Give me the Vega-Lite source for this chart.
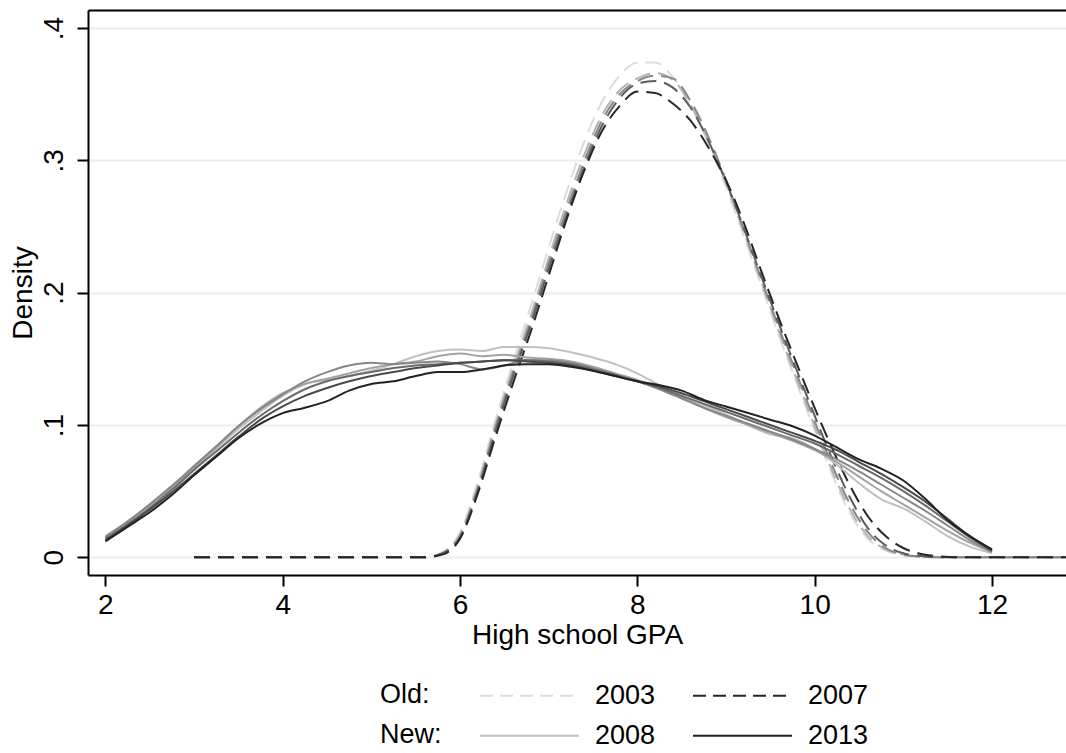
{
  "$schema": "https://vega.github.io/schema/vega-lite/v6.json",
  "width": 978,
  "height": 565,
  "autosize": "none",
  "padding": {"left": 88, "top": 10, "right": 0, "bottom": 178},
  "background": "white",
  "config": {
    "font": "Liberation Sans",
    "view": {"stroke": null},
    "axis": {"labelColor": "black", "titleColor": "black", "titleFontWeight": "normal", "domainColor": "black", "tickColor": "black", "domainWidth": 2, "tickWidth": 2}
  },
  "datasets": {
    "old": [
      {"year":"2003","x":3.0,"y":0},{"year":"2003","x":5.6,"y":0},{"year":"2003","x":5.8,"y":0.004},{"year":"2003","x":6.0,"y":0.019},{"year":"2003","x":6.2,"y":0.057},{"year":"2003","x":6.4,"y":0.104},{"year":"2003","x":6.6,"y":0.148},{"year":"2003","x":6.8,"y":0.19},{"year":"2003","x":7.0,"y":0.234},{"year":"2003","x":7.2,"y":0.276},{"year":"2003","x":7.4,"y":0.314},{"year":"2003","x":7.6,"y":0.344},{"year":"2003","x":7.8,"y":0.364},{"year":"2003","x":8.0,"y":0.374},{"year":"2003","x":8.2,"y":0.374},{"year":"2003","x":8.4,"y":0.363},{"year":"2003","x":8.6,"y":0.342},{"year":"2003","x":8.8,"y":0.313},{"year":"2003","x":9.0,"y":0.28},{"year":"2003","x":9.2,"y":0.243},{"year":"2003","x":9.4,"y":0.205},{"year":"2003","x":9.6,"y":0.167},{"year":"2003","x":9.8,"y":0.131},{"year":"2003","x":10.0,"y":0.096},{"year":"2003","x":10.2,"y":0.062},{"year":"2003","x":10.4,"y":0.033},{"year":"2003","x":10.6,"y":0.014},{"year":"2003","x":10.8,"y":0.005},{"year":"2003","x":11.0,"y":0.0015},{"year":"2003","x":11.2,"y":0.0003},{"year":"2003","x":11.4,"y":0},{"year":"2003","x":11.6,"y":0},{"year":"2003","x":12.84,"y":0},
      {"year":"2004","x":3.0,"y":0},{"year":"2004","x":5.6,"y":0},{"year":"2004","x":5.8,"y":0.003},{"year":"2004","x":6.0,"y":0.017},{"year":"2004","x":6.2,"y":0.054},{"year":"2004","x":6.4,"y":0.1},{"year":"2004","x":6.6,"y":0.143},{"year":"2004","x":6.8,"y":0.183},{"year":"2004","x":7.0,"y":0.226},{"year":"2004","x":7.2,"y":0.267},{"year":"2004","x":7.4,"y":0.304},{"year":"2004","x":7.6,"y":0.334},{"year":"2004","x":7.8,"y":0.353},{"year":"2004","x":8.0,"y":0.362},{"year":"2004","x":8.2,"y":0.366},{"year":"2004","x":8.4,"y":0.361},{"year":"2004","x":8.6,"y":0.342},{"year":"2004","x":8.8,"y":0.315},{"year":"2004","x":9.0,"y":0.283},{"year":"2004","x":9.2,"y":0.246},{"year":"2004","x":9.4,"y":0.208},{"year":"2004","x":9.6,"y":0.17},{"year":"2004","x":9.8,"y":0.134},{"year":"2004","x":10.0,"y":0.099},{"year":"2004","x":10.2,"y":0.065},{"year":"2004","x":10.4,"y":0.036},{"year":"2004","x":10.6,"y":0.016},{"year":"2004","x":10.8,"y":0.006},{"year":"2004","x":11.0,"y":0.002},{"year":"2004","x":11.2,"y":0.0005},{"year":"2004","x":11.4,"y":0},{"year":"2004","x":11.6,"y":0},{"year":"2004","x":12.84,"y":0},
      {"year":"2005","x":3.0,"y":0},{"year":"2005","x":5.6,"y":0},{"year":"2005","x":5.8,"y":0.003},{"year":"2005","x":6.0,"y":0.016},{"year":"2005","x":6.2,"y":0.052},{"year":"2005","x":6.4,"y":0.098},{"year":"2005","x":6.6,"y":0.14},{"year":"2005","x":6.8,"y":0.179},{"year":"2005","x":7.0,"y":0.222},{"year":"2005","x":7.2,"y":0.262},{"year":"2005","x":7.4,"y":0.299},{"year":"2005","x":7.6,"y":0.33},{"year":"2005","x":7.8,"y":0.35},{"year":"2005","x":8.0,"y":0.36},{"year":"2005","x":8.2,"y":0.364},{"year":"2005","x":8.4,"y":0.362},{"year":"2005","x":8.6,"y":0.345},{"year":"2005","x":8.8,"y":0.318},{"year":"2005","x":9.0,"y":0.285},{"year":"2005","x":9.2,"y":0.248},{"year":"2005","x":9.4,"y":0.21},{"year":"2005","x":9.6,"y":0.173},{"year":"2005","x":9.8,"y":0.138},{"year":"2005","x":10.0,"y":0.103},{"year":"2005","x":10.2,"y":0.069},{"year":"2005","x":10.4,"y":0.04},{"year":"2005","x":10.6,"y":0.019},{"year":"2005","x":10.8,"y":0.007},{"year":"2005","x":11.0,"y":0.002},{"year":"2005","x":11.2,"y":0.0005},{"year":"2005","x":11.4,"y":0},{"year":"2005","x":11.6,"y":0},{"year":"2005","x":12.84,"y":0},
      {"year":"2006","x":3.0,"y":0},{"year":"2006","x":5.6,"y":0},{"year":"2006","x":5.8,"y":0.003},{"year":"2006","x":6.0,"y":0.015},{"year":"2006","x":6.2,"y":0.05},{"year":"2006","x":6.4,"y":0.095},{"year":"2006","x":6.6,"y":0.137},{"year":"2006","x":6.8,"y":0.176},{"year":"2006","x":7.0,"y":0.218},{"year":"2006","x":7.2,"y":0.258},{"year":"2006","x":7.4,"y":0.295},{"year":"2006","x":7.6,"y":0.326},{"year":"2006","x":7.8,"y":0.347},{"year":"2006","x":8.0,"y":0.358},{"year":"2006","x":8.2,"y":0.36},{"year":"2006","x":8.4,"y":0.355},{"year":"2006","x":8.6,"y":0.34},{"year":"2006","x":8.8,"y":0.315},{"year":"2006","x":9.0,"y":0.284},{"year":"2006","x":9.2,"y":0.249},{"year":"2006","x":9.4,"y":0.212},{"year":"2006","x":9.6,"y":0.176},{"year":"2006","x":9.8,"y":0.141},{"year":"2006","x":10.0,"y":0.107},{"year":"2006","x":10.2,"y":0.074},{"year":"2006","x":10.4,"y":0.045},{"year":"2006","x":10.6,"y":0.022},{"year":"2006","x":10.8,"y":0.009},{"year":"2006","x":11.0,"y":0.003},{"year":"2006","x":11.2,"y":0.001},{"year":"2006","x":11.4,"y":0},{"year":"2006","x":11.6,"y":0},{"year":"2006","x":12.84,"y":0},
      {"year":"2007","x":3.0,"y":0},{"year":"2007","x":5.6,"y":0},{"year":"2007","x":5.8,"y":0.002},{"year":"2007","x":6.0,"y":0.014},{"year":"2007","x":6.2,"y":0.048},{"year":"2007","x":6.4,"y":0.091},{"year":"2007","x":6.6,"y":0.132},{"year":"2007","x":6.8,"y":0.171},{"year":"2007","x":7.0,"y":0.213},{"year":"2007","x":7.2,"y":0.255},{"year":"2007","x":7.4,"y":0.292},{"year":"2007","x":7.6,"y":0.322},{"year":"2007","x":7.8,"y":0.341},{"year":"2007","x":8.0,"y":0.352},{"year":"2007","x":8.2,"y":0.351},{"year":"2007","x":8.4,"y":0.343},{"year":"2007","x":8.6,"y":0.33},{"year":"2007","x":8.8,"y":0.31},{"year":"2007","x":9.0,"y":0.285},{"year":"2007","x":9.2,"y":0.253},{"year":"2007","x":9.4,"y":0.216},{"year":"2007","x":9.6,"y":0.18},{"year":"2007","x":9.8,"y":0.146},{"year":"2007","x":10.0,"y":0.113},{"year":"2007","x":10.2,"y":0.082},{"year":"2007","x":10.4,"y":0.054},{"year":"2007","x":10.6,"y":0.031},{"year":"2007","x":10.8,"y":0.016},{"year":"2007","x":11.0,"y":0.007},{"year":"2007","x":11.2,"y":0.0025},{"year":"2007","x":11.4,"y":0.0007},{"year":"2007","x":11.6,"y":0},{"year":"2007","x":12.84,"y":0}
    ],
    "new": [
      {"year":"2008","x":2.0,"y":0.015},{"year":"2008","x":2.25,"y":0.026},{"year":"2008","x":2.5,"y":0.038},{"year":"2008","x":2.75,"y":0.052},{"year":"2008","x":3.0,"y":0.067},{"year":"2008","x":3.25,"y":0.082},{"year":"2008","x":3.5,"y":0.097},{"year":"2008","x":3.75,"y":0.11},{"year":"2008","x":4.0,"y":0.122},{"year":"2008","x":4.25,"y":0.131},{"year":"2008","x":4.5,"y":0.134},{"year":"2008","x":4.75,"y":0.137},{"year":"2008","x":5.0,"y":0.141},{"year":"2008","x":5.25,"y":0.146},{"year":"2008","x":5.5,"y":0.152},{"year":"2008","x":5.75,"y":0.156},{"year":"2008","x":6.0,"y":0.157},{"year":"2008","x":6.25,"y":0.156},{"year":"2008","x":6.5,"y":0.159},{"year":"2008","x":6.75,"y":0.159},{"year":"2008","x":7.0,"y":0.158},{"year":"2008","x":7.25,"y":0.155},{"year":"2008","x":7.5,"y":0.151},{"year":"2008","x":7.75,"y":0.146},{"year":"2008","x":8.0,"y":0.139},{"year":"2008","x":8.25,"y":0.13},{"year":"2008","x":8.5,"y":0.122},{"year":"2008","x":8.75,"y":0.115},{"year":"2008","x":9.0,"y":0.108},{"year":"2008","x":9.25,"y":0.1},{"year":"2008","x":9.5,"y":0.093},{"year":"2008","x":9.75,"y":0.09},{"year":"2008","x":10.0,"y":0.082},{"year":"2008","x":10.25,"y":0.07},{"year":"2008","x":10.5,"y":0.056},{"year":"2008","x":10.75,"y":0.044},{"year":"2008","x":11.0,"y":0.037},{"year":"2008","x":11.25,"y":0.027},{"year":"2008","x":11.5,"y":0.016},{"year":"2008","x":11.75,"y":0.008},{"year":"2008","x":12.0,"y":0.003},
      {"year":"2009","x":2.0,"y":0.016},{"year":"2009","x":2.25,"y":0.027},{"year":"2009","x":2.5,"y":0.039},{"year":"2009","x":2.75,"y":0.053},{"year":"2009","x":3.0,"y":0.068},{"year":"2009","x":3.25,"y":0.083},{"year":"2009","x":3.5,"y":0.099},{"year":"2009","x":3.75,"y":0.113},{"year":"2009","x":4.0,"y":0.124},{"year":"2009","x":4.25,"y":0.131},{"year":"2009","x":4.5,"y":0.135},{"year":"2009","x":4.75,"y":0.139},{"year":"2009","x":5.0,"y":0.143},{"year":"2009","x":5.25,"y":0.146},{"year":"2009","x":5.5,"y":0.148},{"year":"2009","x":5.75,"y":0.152},{"year":"2009","x":6.0,"y":0.154},{"year":"2009","x":6.25,"y":0.152},{"year":"2009","x":6.5,"y":0.153},{"year":"2009","x":6.75,"y":0.151},{"year":"2009","x":7.0,"y":0.15},{"year":"2009","x":7.25,"y":0.148},{"year":"2009","x":7.5,"y":0.144},{"year":"2009","x":7.75,"y":0.139},{"year":"2009","x":8.0,"y":0.134},{"year":"2009","x":8.25,"y":0.128},{"year":"2009","x":8.5,"y":0.121},{"year":"2009","x":8.75,"y":0.113},{"year":"2009","x":9.0,"y":0.106},{"year":"2009","x":9.25,"y":0.1},{"year":"2009","x":9.5,"y":0.094},{"year":"2009","x":9.75,"y":0.088},{"year":"2009","x":10.0,"y":0.081},{"year":"2009","x":10.25,"y":0.072},{"year":"2009","x":10.5,"y":0.061},{"year":"2009","x":10.75,"y":0.05},{"year":"2009","x":11.0,"y":0.04},{"year":"2009","x":11.25,"y":0.03},{"year":"2009","x":11.5,"y":0.02},{"year":"2009","x":11.75,"y":0.011},{"year":"2009","x":12.0,"y":0.004},
      {"year":"2010","x":2.0,"y":0.015},{"year":"2010","x":2.25,"y":0.027},{"year":"2010","x":2.5,"y":0.04},{"year":"2010","x":2.75,"y":0.054},{"year":"2010","x":3.0,"y":0.069},{"year":"2010","x":3.25,"y":0.084},{"year":"2010","x":3.5,"y":0.099},{"year":"2010","x":3.75,"y":0.112},{"year":"2010","x":4.0,"y":0.123},{"year":"2010","x":4.25,"y":0.133},{"year":"2010","x":4.5,"y":0.14},{"year":"2010","x":4.75,"y":0.145},{"year":"2010","x":5.0,"y":0.147},{"year":"2010","x":5.25,"y":0.146},{"year":"2010","x":5.5,"y":0.147},{"year":"2010","x":5.75,"y":0.148},{"year":"2010","x":6.0,"y":0.146},{"year":"2010","x":6.25,"y":0.142},{"year":"2010","x":6.5,"y":0.145},{"year":"2010","x":6.75,"y":0.149},{"year":"2010","x":7.0,"y":0.149},{"year":"2010","x":7.25,"y":0.147},{"year":"2010","x":7.5,"y":0.143},{"year":"2010","x":7.75,"y":0.138},{"year":"2010","x":8.0,"y":0.133},{"year":"2010","x":8.25,"y":0.127},{"year":"2010","x":8.5,"y":0.12},{"year":"2010","x":8.75,"y":0.113},{"year":"2010","x":9.0,"y":0.107},{"year":"2010","x":9.25,"y":0.101},{"year":"2010","x":9.5,"y":0.095},{"year":"2010","x":9.75,"y":0.089},{"year":"2010","x":10.0,"y":0.082},{"year":"2010","x":10.25,"y":0.074},{"year":"2010","x":10.5,"y":0.065},{"year":"2010","x":10.75,"y":0.055},{"year":"2010","x":11.0,"y":0.045},{"year":"2010","x":11.25,"y":0.035},{"year":"2010","x":11.5,"y":0.024},{"year":"2010","x":11.75,"y":0.013},{"year":"2010","x":12.0,"y":0.004},
      {"year":"2011","x":2.0,"y":0.014},{"year":"2011","x":2.25,"y":0.025},{"year":"2011","x":2.5,"y":0.037},{"year":"2011","x":2.75,"y":0.051},{"year":"2011","x":3.0,"y":0.066},{"year":"2011","x":3.25,"y":0.08},{"year":"2011","x":3.5,"y":0.094},{"year":"2011","x":3.75,"y":0.107},{"year":"2011","x":4.0,"y":0.118},{"year":"2011","x":4.25,"y":0.127},{"year":"2011","x":4.5,"y":0.133},{"year":"2011","x":4.75,"y":0.137},{"year":"2011","x":5.0,"y":0.14},{"year":"2011","x":5.25,"y":0.143},{"year":"2011","x":5.5,"y":0.145},{"year":"2011","x":5.75,"y":0.146},{"year":"2011","x":6.0,"y":0.147},{"year":"2011","x":6.25,"y":0.148},{"year":"2011","x":6.5,"y":0.149},{"year":"2011","x":6.75,"y":0.149},{"year":"2011","x":7.0,"y":0.148},{"year":"2011","x":7.25,"y":0.146},{"year":"2011","x":7.5,"y":0.142},{"year":"2011","x":7.75,"y":0.138},{"year":"2011","x":8.0,"y":0.133},{"year":"2011","x":8.25,"y":0.128},{"year":"2011","x":8.5,"y":0.122},{"year":"2011","x":8.75,"y":0.116},{"year":"2011","x":9.0,"y":0.11},{"year":"2011","x":9.25,"y":0.104},{"year":"2011","x":9.5,"y":0.098},{"year":"2011","x":9.75,"y":0.092},{"year":"2011","x":10.0,"y":0.086},{"year":"2011","x":10.25,"y":0.078},{"year":"2011","x":10.5,"y":0.069},{"year":"2011","x":10.75,"y":0.06},{"year":"2011","x":11.0,"y":0.05},{"year":"2011","x":11.25,"y":0.039},{"year":"2011","x":11.5,"y":0.027},{"year":"2011","x":11.75,"y":0.015},{"year":"2011","x":12.0,"y":0.005},
      {"year":"2012","x":2.0,"y":0.013},{"year":"2012","x":2.25,"y":0.024},{"year":"2012","x":2.5,"y":0.036},{"year":"2012","x":2.75,"y":0.049},{"year":"2012","x":3.0,"y":0.063},{"year":"2012","x":3.25,"y":0.077},{"year":"2012","x":3.5,"y":0.091},{"year":"2012","x":3.75,"y":0.104},{"year":"2012","x":4.0,"y":0.114},{"year":"2012","x":4.25,"y":0.122},{"year":"2012","x":4.5,"y":0.128},{"year":"2012","x":4.75,"y":0.133},{"year":"2012","x":5.0,"y":0.137},{"year":"2012","x":5.25,"y":0.14},{"year":"2012","x":5.5,"y":0.143},{"year":"2012","x":5.75,"y":0.145},{"year":"2012","x":6.0,"y":0.147},{"year":"2012","x":6.25,"y":0.148},{"year":"2012","x":6.5,"y":0.149},{"year":"2012","x":6.75,"y":0.148},{"year":"2012","x":7.0,"y":0.147},{"year":"2012","x":7.25,"y":0.145},{"year":"2012","x":7.5,"y":0.141},{"year":"2012","x":7.75,"y":0.137},{"year":"2012","x":8.0,"y":0.133},{"year":"2012","x":8.25,"y":0.129},{"year":"2012","x":8.5,"y":0.124},{"year":"2012","x":8.75,"y":0.118},{"year":"2012","x":9.0,"y":0.112},{"year":"2012","x":9.25,"y":0.106},{"year":"2012","x":9.5,"y":0.1},{"year":"2012","x":9.75,"y":0.094},{"year":"2012","x":10.0,"y":0.088},{"year":"2012","x":10.25,"y":0.081},{"year":"2012","x":10.5,"y":0.072},{"year":"2012","x":10.75,"y":0.063},{"year":"2012","x":11.0,"y":0.053},{"year":"2012","x":11.25,"y":0.042},{"year":"2012","x":11.5,"y":0.029},{"year":"2012","x":11.75,"y":0.016},{"year":"2012","x":12.0,"y":0.005},
      {"year":"2013","x":2.0,"y":0.012},{"year":"2013","x":2.25,"y":0.023},{"year":"2013","x":2.5,"y":0.034},{"year":"2013","x":2.75,"y":0.047},{"year":"2013","x":3.0,"y":0.062},{"year":"2013","x":3.25,"y":0.076},{"year":"2013","x":3.5,"y":0.09},{"year":"2013","x":3.75,"y":0.101},{"year":"2013","x":4.0,"y":0.109},{"year":"2013","x":4.25,"y":0.113},{"year":"2013","x":4.5,"y":0.118},{"year":"2013","x":4.75,"y":0.126},{"year":"2013","x":5.0,"y":0.131},{"year":"2013","x":5.25,"y":0.133},{"year":"2013","x":5.5,"y":0.137},{"year":"2013","x":5.75,"y":0.14},{"year":"2013","x":6.0,"y":0.14},{"year":"2013","x":6.25,"y":0.142},{"year":"2013","x":6.5,"y":0.145},{"year":"2013","x":6.75,"y":0.146},{"year":"2013","x":7.0,"y":0.146},{"year":"2013","x":7.25,"y":0.144},{"year":"2013","x":7.5,"y":0.141},{"year":"2013","x":7.75,"y":0.137},{"year":"2013","x":8.0,"y":0.133},{"year":"2013","x":8.25,"y":0.13},{"year":"2013","x":8.5,"y":0.126},{"year":"2013","x":8.75,"y":0.119},{"year":"2013","x":9.0,"y":0.114},{"year":"2013","x":9.25,"y":0.109},{"year":"2013","x":9.5,"y":0.104},{"year":"2013","x":9.75,"y":0.099},{"year":"2013","x":10.0,"y":0.092},{"year":"2013","x":10.25,"y":0.083},{"year":"2013","x":10.5,"y":0.074},{"year":"2013","x":10.75,"y":0.067},{"year":"2013","x":11.0,"y":0.058},{"year":"2013","x":11.25,"y":0.044},{"year":"2013","x":11.5,"y":0.028},{"year":"2013","x":11.75,"y":0.016},{"year":"2013","x":12.0,"y":0.006}
    ]
  },
  "layer": [
    {
      "data": {"name": "old"},
      "mark": {"type": "line", "strokeWidth": 2, "strokeDash": [16, 8], "interpolate": "monotone", "clip": true},
      "encoding": {
        "x": {"field": "x", "type": "quantitative", "scale": {"domain": [1.804, 12.835], "nice": false, "zero": false},
          "axis": {"orient": "bottom", "values": [2, 4, 6, 8, 10, 12], "grid": false, "tickSize": 11, "labelFontSize": 28, "labelBaseline": "alphabetic", "labelPadding": 27, "labelFlush": false, "title": "High school GPA", "titleFontSize": 28, "titleBaseline": "alphabetic", "titleY": 68, "titleX": 489}},
        "y": {"field": "y", "type": "quantitative", "scale": {"domain": [-0.0134, 0.4137], "nice": false, "zero": false},
          "axis": {"values": [0, 0.1, 0.2, 0.3, 0.4], "labelExpr": "datum.value == 0 ? '0' : replace(format(datum.value, '.1f'), '0.', '.')", "grid": true, "gridColor": "#e6eef0", "gridWidth": 2, "tickSize": 11, "labelAngle": 270, "labelAlign": "center", "labelBaseline": "alphabetic", "labelPadding": 15, "labelFontSize": 28, "labelFlush": false, "title": "Density", "titleFontSize": 28, "titleBaseline": "alphabetic", "titleAngle": 270, "titleX": -57, "titleY": 282.5}},
        "color": {"field": "year", "type": "nominal",
          "scale": {"domain": ["2003", "2004", "2005", "2006", "2007"], "range": ["#dcdcdc", "#b2b2b2", "#888888", "#5c5c5c", "#262626"]},
          "legend": {"orient": "none", "legendX": 292, "legendY": 635, "direction": "horizontal", "values": ["2003", "2007"], "title": "Old:", "titleOrient": "left", "titleAngle": 0, "titleAnchor": "end", "titleBaseline": "bottom", "titleAlign": "left", "titleFontSize": 27, "titleFontWeight": "normal", "titleColor": "black", "titlePadding": 49, "symbolType": "stroke", "symbolSize": 9801, "symbolStrokeWidth": 2, "symbolDash": [13, 7], "labelFontSize": 27, "labelColor": "black", "labelOffset": 15, "columnPadding": 33, "padding": 0}}
      }
    },
    {
      "data": {"name": "new"},
      "mark": {"type": "line", "strokeWidth": 2, "interpolate": "monotone", "clip": true},
      "encoding": {
        "x": {"field": "x", "type": "quantitative", "axis": {"orient": "top", "labels": false, "ticks": false, "title": null, "grid": false, "domain": true}},
        "y": {"field": "y", "type": "quantitative"},
        "color": {"field": "year", "type": "nominal",
          "scale": {"domain": ["2008", "2009", "2010", "2011", "2012", "2013"], "range": ["#c0c0c0", "#a3a3a3", "#878787", "#6b6b6b", "#4a4a4a", "#222222"]},
          "legend": {"orient": "none", "legendX": 292, "legendY": 675, "direction": "horizontal", "values": ["2008", "2013"], "title": "New:", "titleOrient": "left", "titleAngle": 0, "titleAnchor": "end", "titleBaseline": "bottom", "titleAlign": "left", "titleFontSize": 27, "titleFontWeight": "normal", "titleColor": "black", "titlePadding": 37, "symbolType": "stroke", "symbolSize": 9801, "symbolStrokeWidth": 2, "labelFontSize": 27, "labelColor": "black", "labelOffset": 15, "columnPadding": 33, "padding": 0}}
      }
    }
  ],
  "resolve": {"scale": {"color": "independent"}, "axis": {"x": "independent"}}
}
